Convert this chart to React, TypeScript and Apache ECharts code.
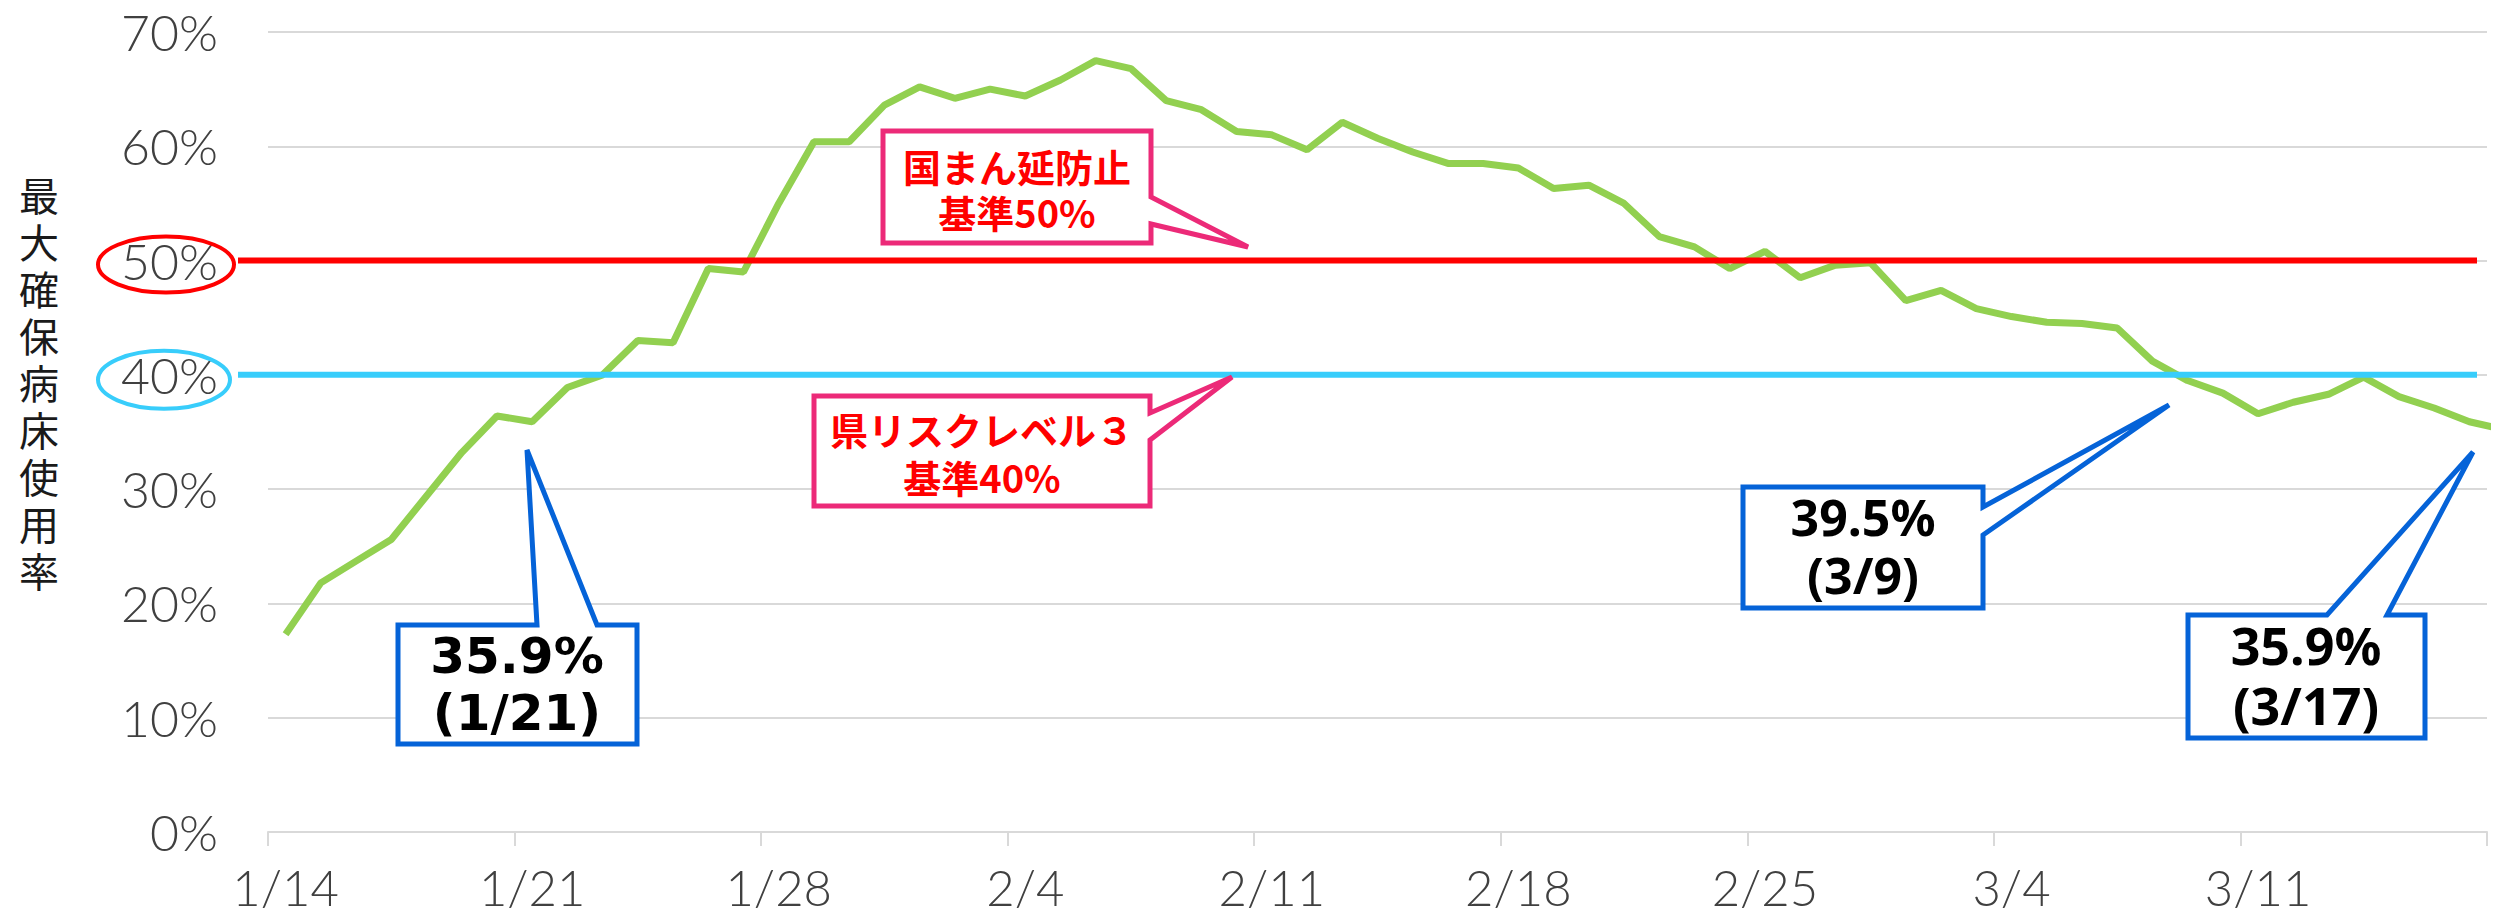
import React, { useEffect, useRef } from "react";
import * as echarts from "echarts";

// Dates (the last one, 3/18, lies just past the right edge and is clipped)
const categories = [
  "1/14","1/15","1/16","1/17","1/18","1/19","1/20","1/21","1/22","1/23","1/24","1/25","1/26","1/27",
  "1/28","1/29","1/30","1/31","2/1","2/2","2/3","2/4","2/5","2/6","2/7","2/8","2/9","2/10",
  "2/11","2/12","2/13","2/14","2/15","2/16","2/17","2/18","2/19","2/20","2/21","2/22","2/23","2/24",
  "2/25","2/26","2/27","2/28","3/1","3/2","3/3","3/4","3/5","3/6","3/7","3/8","3/9","3/10",
  "3/11","3/12","3/13","3/14","3/15","3/16","3/17","3/18",
];

// 最大確保病床使用率 (%)
const occupancy = [
  17.3, 21.8, 23.7, 25.6, 29.4, 33.2, 36.4, 35.9, 38.9, 40.0, 43.0, 42.8, 49.3, 49.0,
  55.0, 60.4, 60.4, 63.6, 65.2, 64.2, 65.0, 64.4, 65.8, 67.5, 66.8, 64.0, 63.2, 61.3,
  61.0, 59.7, 62.1, 60.7, 59.5, 58.5, 58.5, 58.1, 56.3, 56.6, 55.0, 52.1, 51.2, 49.3,
  50.8, 48.5, 49.6, 49.8, 46.5, 47.4, 45.8, 45.1, 44.6, 44.5, 44.1, 41.2, 39.5, 38.4,
  36.6, 37.6, 38.3, 39.8, 38.1, 37.1, 35.9, 35.2,
];

const lastShownIndex = 62; // 3/17
const yMin = 0;
const yMax = 70;
const yInterval = 10;

const yAxisTitle = "最大確保病床使用率";
const thresholdManbo = 50; // 国まん延防止 基準
const thresholdLevel3 = 40; // 県リスクレベル３ 基準

const pinkNotes = [
  ["国まん延防止", "基準50%"],
  ["県リスクレベル３", "基準40%"],
];
const blueNotes = [
  ["35.9%", "(1/21)"],
  ["39.5%", "(3/9)"],
  ["35.9%", "(3/17)"],
];

const GREEN = "#92d050";
const RED = "#ff0000";
const CYAN = "#38cdfb";
const PINK = "#ec2a78";
const BLUE = "#0563d8";
const GRID = "#d9d9d9";
const LABEL = "#404040";

export default function App() {
  const ref = useRef<HTMLDivElement>(null);

  useEffect(() => {
    if (!ref.current) return;
    const chart = echarts.init(ref.current, undefined, { renderer: "svg" });

    chart.setOption({
      animation: false,
      backgroundColor: "#ffffff",
      grid: { left: 268, right: 16, top: 32, bottom: 85 },
      xAxis: {
        type: "category",
        data: categories,
        boundaryGap: true,
        max: lastShownIndex,
        axisLine: { show: true, lineStyle: { color: GRID, width: 2 } },
        axisTick: { show: true, interval: 6, length: 14, lineStyle: { color: GRID, width: 2 } },
        axisLabel: {
          interval: 6,
          margin: 30,
          color: LABEL,
          fontSize: 49,
          fontFamily: "Lato",
          fontWeight: 300,
        },
        splitLine: { show: false },
      },
      yAxis: {
        type: "value",
        min: yMin,
        max: yMax,
        interval: yInterval,
        axisLine: { show: false },
        axisTick: { show: false },
        axisLabel: {
          formatter: "{value}%",
          margin: 50,
          color: LABEL,
          fontSize: 50,
          fontFamily: "Lato",
          fontWeight: 300,
        },
        splitLine: { show: true, lineStyle: { color: GRID, width: 2 } },
      },
      series: [
        {
          type: "line",
          data: occupancy,
          symbol: "none",
          clip: true,
          lineStyle: { color: GREEN, width: 7 },
          itemStyle: { color: GREEN },
          z: 2,
        },
      ],
    });

    const yRed = chart.convertToPixel({ yAxisIndex: 0 }, thresholdManbo) as number;
    const yCyan = chart.convertToPixel({ yAxisIndex: 0 }, thresholdLevel3) as number;

    const callout = (points: number[][], stroke: string) => ({
      type: "polygon",
      z: 20,
      shape: { points },
      style: { fill: "#ffffff", stroke, lineWidth: 5, lineJoin: "miter" },
    });
    const twoLines = (
      lines: string[],
      cx: number,
      cy: number,
      size: number,
      lh: number,
      color: string,
      family: string
    ) => ({
      type: "text",
      z: 21,
      x: cx,
      y: cy,
      style: {
        text: lines.join("\n"),
        fontSize: size,
        fontWeight: "bold",
        fontFamily: family,
        fill: color,
        align: "center",
        verticalAlign: "middle",
        lineHeight: lh,
      },
    });

    const cjk = "'Noto Sans CJK JP', 'Noto Sans', sans-serif";

    chart.setOption({
      graphic: [
        {
          type: "text",
          z: 20,
          x: 39,
          y: 382,
          style: {
            text: yAxisTitle.split("").join("\n"),
            fontSize: 40,
            lineHeight: 47,
            fontFamily: cjk,
            fill: "#1a1a1a",
            align: "center",
            verticalAlign: "middle",
          },
        },
        // reference lines
        {
          type: "line",
          z: 15,
          shape: { x1: 238, y1: yRed, x2: 2477, y2: yRed },
          style: { stroke: RED, lineWidth: 6 },
        },
        {
          type: "line",
          z: 15,
          shape: { x1: 238, y1: yCyan, x2: 2477, y2: yCyan },
          style: { stroke: CYAN, lineWidth: 6 },
        },
        // ellipses around tick labels
        {
          type: "ellipse",
          z: 16,
          shape: { cx: 166, cy: yRed + 4, rx: 68, ry: 28 },
          style: { fill: "transparent", stroke: RED, lineWidth: 4 },
        },
        {
          type: "ellipse",
          z: 16,
          shape: { cx: 164, cy: yCyan + 5, rx: 66, ry: 29 },
          style: { fill: "transparent", stroke: CYAN, lineWidth: 4 },
        },
        // pink callouts
        callout(
          [[883, 131], [1151, 131], [1151, 197], [1248, 247], [1151, 224], [1151, 243], [883, 243]],
          PINK
        ),
        twoLines(pinkNotes[0], 1017, 188, 38, 46, RED, cjk),
        callout(
          [[814, 396], [1150, 396], [1150, 413], [1232, 377], [1150, 440], [1150, 506], [814, 506]],
          PINK
        ),
        twoLines(pinkNotes[1], 982, 452, 38, 48, RED, cjk),
        // blue callouts
        callout(
          [[398, 625], [537, 625], [527, 450], [597, 625], [637, 625], [637, 744], [398, 744]],
          BLUE
        ),
        twoLines(blueNotes[0], 517, 684, 50, 57, "#000000", "'DejaVu Sans', Verdana, sans-serif"),
        callout(
          [[1743, 487], [1983, 487], [1983, 507], [2169, 405], [1983, 535], [1983, 608], [1743, 608]],
          BLUE
        ),
        twoLines(blueNotes[1], 1863, 546, 50, 58, "#000000", "'Noto Sans', sans-serif"),
        callout(
          [[2188, 615], [2327, 615], [2473, 452], [2387, 615], [2425, 615], [2425, 738], [2188, 738]],
          BLUE
        ),
        twoLines(blueNotes[2], 2306, 674, 52, 60, "#000000", "'Noto Sans', sans-serif"),
      ],
    });

    return () => chart.dispose();
  }, []);

  return (
    <div
      ref={ref}
      style={{ position: "fixed", left: 0, top: 0, width: 2503, height: 917, background: "#fff" }}
    />
  );
}
